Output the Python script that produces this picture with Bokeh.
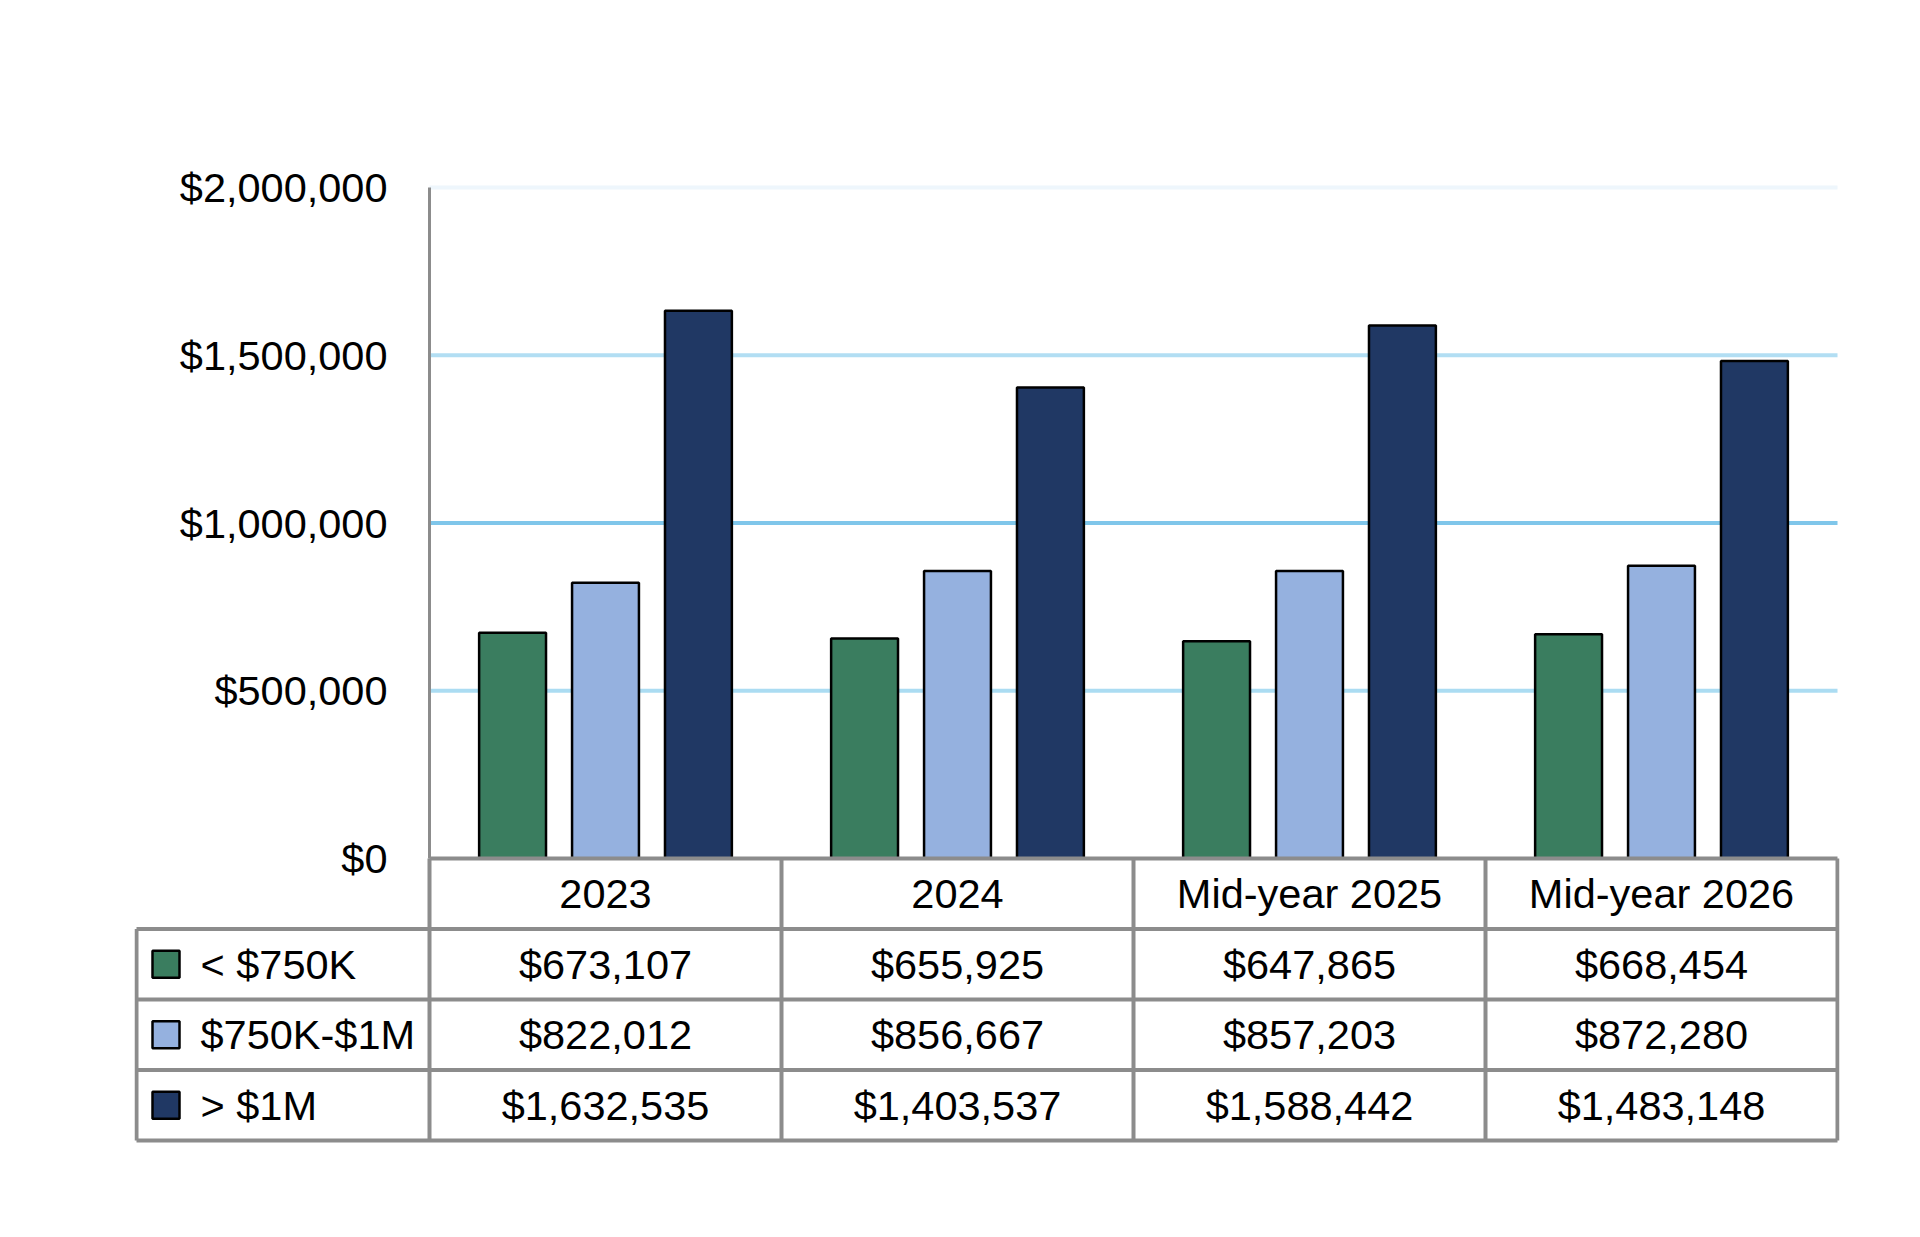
from bokeh.plotting import figure
from bokeh.models import Range1d, FixedTicker, NumeralTickFormatter, LinearAxis, ColumnDataSource
from bokeh.core.properties import value
from bokeh.embed import file_html
from bokeh.resources import INLINE

# ---------------- data ----------------
categories = ["2023", "2024", "Mid-year 2025", "Mid-year 2026"]
series_names = ["< $750K", "$750K-$1M", "> $1M"]
under_750k = [673107, 655925, 647865, 668454]
mid_750k_1m = [822012, 856667, 857203, 872280]
over_1m = [1632535, 1403537, 1588442, 1483148]
y_ticks = [0, 500000, 1000000, 1500000, 2000000]

series_values = [under_750k, mid_750k_1m, over_1m]
colors = ["#3A7D5F", "#95B1DF", "#203864"]
grid_colors = {500000: "#ABDCF2", 1000000: "#7FC6EA", 1500000: "#B2DEF3", 2000000: "#EEF6FC"}

FONT = "Liberation Sans"
FS = "41.5px"
GRAY = "#8C8C8C"

# ---------------- layout (page pixels) ----------------
ORG = 2                 # page offset of the figure
FIG_W, FIG_H = 1900, 1170
AXIS_X = 431            # y axis / first category left edge
RIGHT_X = 1839          # right edge of the categories
TABLE_L = 138           # left edge of table
FRAME_L, FRAME_R = TABLE_L - 2, RIGHT_X + 2
Y_TOP, Y_ZERO = 189, 860   # pixel rows of $2M and $0
FRAME_T, FRAME_B = 120, 1146
ROW_PX = 70.5

n_cols = len(categories)
n_rows = len(series_names) + 1
CAT_PX = (RIGHT_X - AXIS_X) / n_cols
legend_w = (AXIS_X - TABLE_L) / CAT_PX
ymax = y_ticks[-1]
k = ymax / (Y_ZERO - Y_TOP)          # data units per pixel

x_range = Range1d(-(AXIS_X - FRAME_L) / CAT_PX, n_cols + (FRAME_R - RIGHT_X) / CAT_PX)
y_range = Range1d(-(FRAME_B - Y_ZERO) * k, ymax + (Y_TOP - FRAME_T) * k)

p = figure(x_range=x_range, y_range=y_range, width=FIG_W, height=FIG_H,
           min_border_left=FRAME_L - ORG, min_border_right=FIG_W - (FRAME_R - ORG),
           min_border_top=FRAME_T - ORG, min_border_bottom=FIG_H - (FRAME_B - ORG),
           x_axis_location=None, y_axis_location=None,
           output_backend="svg", toolbar_location=None)
p.outline_line_color = None
p.grid.visible = False
p.extra_y_ranges = {"table": Range1d((FRAME_B - Y_ZERO) / ROW_PX, (FRAME_T - Y_ZERO) / ROW_PX)}

# ---------------- gridlines ----------------
g_ticks = [t for t in y_ticks if t in grid_colors]
p.segment(x0=[0] * len(g_ticks), x1=[n_cols] * len(g_ticks), y0=g_ticks, y1=g_ticks,
          line_color=[grid_colors[t] for t in g_ticks], line_width=4)

# ---------------- bars ----------------
offsets = [-0.264, 0.0, 0.264]
for i, vals in enumerate(series_values):
    src = ColumnDataSource(dict(x=[c + 0.5 + offsets[i] for c in range(n_cols)], top=vals))
    p.vbar(x="x", top="top", bottom=0, width=0.19, source=src,
           fill_color=colors[i], line_color="black", line_width=2.5)

# ---------------- y axis ----------------
ax = LinearAxis(fixed_location=0, bounds=(0, ymax))
ax.ticker = FixedTicker(ticks=y_ticks)
ax.formatter = NumeralTickFormatter(format="$0,0")
ax.major_tick_line_color = None
ax.minor_tick_line_color = None
ax.major_tick_out = 0
ax.major_tick_in = 0
ax.axis_line_color = GRAY
ax.axis_line_width = 3
ax.major_label_text_font = FONT
ax.major_label_text_font_size = FS
ax.major_label_text_color = "black"
ax.major_label_standoff = 42
p.add_layout(ax, "left")

# ---------------- data table ----------------
hx0 = [0 if r == 0 else -legend_w for r in range(n_rows + 1)]
hx1 = [n_cols] * (n_rows + 1)
hy = list(range(n_rows + 1))
p.segment(x0=hx0, y0=hy, x1=hx1, y1=hy, line_color=GRAY, line_width=4, y_range_name="table")
vx = list(range(n_cols + 1)) + [-legend_w]
vy0 = [0] * (n_cols + 1) + [1]
vy1 = [n_rows] * (n_cols + 2)
p.segment(x0=vx, y0=vy0, x1=vx, y1=vy1, line_color=GRAY, line_width=4, y_range_name="table")

p.text(x=[i + 0.5 for i in range(n_cols)], y=[0.5] * n_cols, text=categories,
       text_font=value(FONT), text_font_size=FS, text_align="center",
       text_baseline="middle", text_color="black", y_range_name="table")

tx, ty, tt = [], [], []
for r, vals in enumerate(series_values):
    for c, v in enumerate(vals):
        tx.append(c + 0.5); ty.append(r + 1.5); tt.append("${:,}".format(v))
p.text(x=tx, y=ty, text=tt, text_font=value(FONT), text_font_size=FS,
       text_align="center", text_baseline="middle", text_color="black", y_range_name="table")

sw_x = -legend_w + 29.5 / CAT_PX
lbl_x = -legend_w + 64 / CAT_PX
rows_y = [r + 1.5 for r in range(len(series_names))]
p.scatter(x=[sw_x] * len(series_names), y=rows_y, marker="square", size=27,
          fill_color=colors, line_color="black", line_width=2.5, y_range_name="table")
p.text(x=[lbl_x] * len(series_names), y=rows_y, text=series_names,
       text_font=value(FONT), text_font_size=FS, text_align="left",
       text_baseline="middle", text_color="black", y_range_name="table")

open("out.html", "w").write(file_html(p, INLINE))
